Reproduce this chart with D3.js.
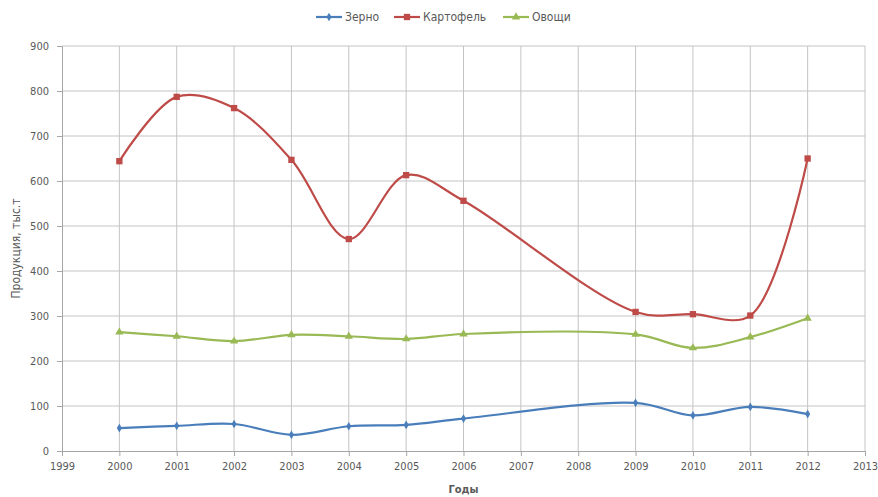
<!DOCTYPE html>
<html>
<head>
<meta charset="utf-8">
<script src="https://cdn.jsdelivr.net/npm/d3@7"></script>
<style>
  body { margin: 0; background: #fff; }
  text { font-family: "DejaVu Sans Condensed", "DejaVu Sans", sans-serif; fill: #595959; }
</style>
</head>
<body>
<svg id="chart" width="878" height="497"></svg>
<script>
// chart data
const years = [2000, 2001, 2002, 2003, 2004, 2005, 2006, 2009, 2010, 2011, 2012];
const grain = [51, 56, 60, 36, 55, 58, 72, 107, 79, 98, 82];
const potato = [644, 787, 762, 647, 471, 613, 556, 309, 304, 301, 650];
const veg = [264, 255, 244, 258, 255, 249, 260, 259, 229, 253, 295];
const seriesNames = ["Зерно", "Картофель", "Овощи"];
const xTicks = d3.range(1999, 2014);
const yTicks = d3.range(0, 901, 100);

const W = 878, H = 497;
const m = { left: 62, right: 13, top: 46, bottom: 46 };

const svg = d3.select("#chart");
const x = d3.scaleLinear().domain([1999, 2013]).range([m.left, W - m.right]);
const y = d3.scaleLinear().domain([0, 900]).range([H - m.bottom, m.top]);

// grid
svg.append("g").selectAll("line").data(yTicks.filter(d => d > 0)).join("line")
  .attr("x1", x(1999)).attr("x2", x(2013))
  .attr("y1", d => y(d)).attr("y2", d => y(d))
  .attr("stroke", "#c4c4c4").attr("stroke-width", 1);
svg.append("g").selectAll("line").data(xTicks.filter(d => d > 1999)).join("line")
  .attr("x1", d => x(d)).attr("x2", d => x(d))
  .attr("y1", y(0)).attr("y2", y(900))
  .attr("stroke", "#c4c4c4").attr("stroke-width", 1);

// axes
const xAxis = svg.append("g").attr("transform", `translate(0,${y(0)})`)
  .call(d3.axisBottom(x).tickValues(xTicks).tickFormat(d3.format("d")).tickSize(5).tickPadding(6));
const yAxis = svg.append("g").attr("transform", `translate(${x(1999)},0)`)
  .call(d3.axisLeft(y).tickValues(yTicks).tickSize(5).tickPadding(8));
[xAxis, yAxis].forEach(a => {
  a.select(".domain").attr("stroke", "#a6a6a6");
  a.selectAll(".tick line").attr("stroke", "#a6a6a6");
  a.selectAll(".tick text").style("font-family", "'DejaVu Sans Condensed', sans-serif")
    .style("font-size", "11px").attr("fill", "#595959");
});

// axis titles
svg.append("text").attr("x", x(2006)).attr("y", 493).attr("text-anchor", "middle")
  .style("font-size", "11px").style("font-weight", "bold").attr("fill", "#404040").text("Годы");
svg.append("text").attr("transform", `translate(20,${y(450)}) rotate(-90)`)
  .attr("text-anchor", "middle").style("font-size", "12px").text("Продукция, тыс.т");

// series
const series = [
  { name: seriesNames[0], values: grain, color: "#4a7ebb", symbol: d3.symbolDiamond, size: 22 },
  { name: seriesNames[1], values: potato, color: "#be4b48", symbol: d3.symbolSquare, size: 40 },
  { name: seriesNames[2], values: veg, color: "#98b954", symbol: d3.symbolTriangle, size: 30 }
];

const line = d3.line().x(d => x(d[0])).y(d => y(d[1])).curve(d3.curveCatmullRom.alpha(0.5));

series.forEach(s => {
  const pts = years.map((yr, i) => [yr, s.values[i]]);
  svg.append("path").datum(pts).attr("d", line)
    .attr("fill", "none").attr("stroke", s.color).attr("stroke-width", 2.2);
  svg.append("g").selectAll("path").data(pts).join("path")
    .attr("transform", d => `translate(${x(d[0])},${y(d[1])})`)
    .attr("d", d3.symbol().type(s.symbol).size(s.size))
    .attr("fill", s.color);
});

// legend
const legendX = [316, 394, 503];
series.forEach((s, i) => {
  const g = svg.append("g").attr("transform", `translate(${legendX[i]},17)`);
  g.append("line").attr("x1", 0).attr("x2", 26).attr("stroke", s.color).attr("stroke-width", 2.2);
  g.append("path").attr("transform", "translate(13,0)")
    .attr("d", d3.symbol().type(s.symbol).size(s.size)).attr("fill", s.color);
  g.append("text").attr("x", 29).attr("y", 4).style("font-size", "12px").text(s.name);
});
</script>
</body>
</html>
